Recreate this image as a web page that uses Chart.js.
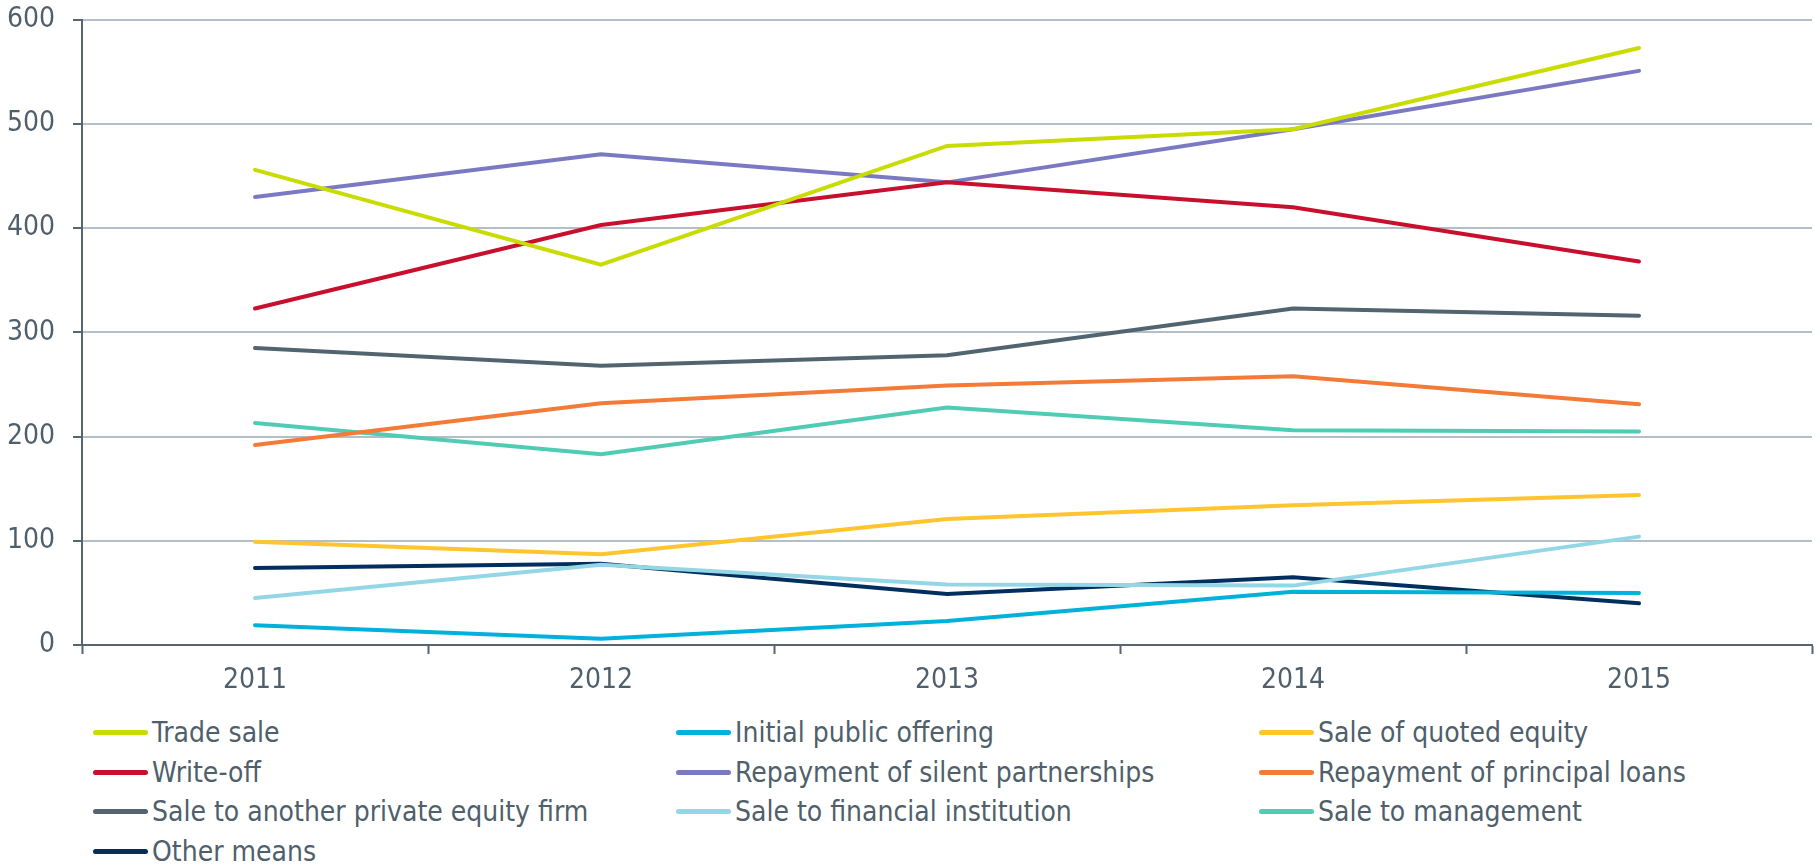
<!DOCTYPE html>
<html>
<head>
<meta charset="utf-8">
<script src="https://cdn.jsdelivr.net/npm/chart.js@4/dist/chart.umd.min.js"></script>
<style>
  html, body { margin: 0; padding: 0; background: #fff; }
  body { width: 1819px; height: 864px; position: relative; overflow: hidden;
         font-family: "DejaVu Sans Condensed", "DejaVu Sans", sans-serif; color: #4f5f6b; }
  #wrap { position: absolute; left: 0; top: -15px; width: 1819px; height: 715px; }
  #legend { position: absolute; left: 93px; top: 713px; display: grid;
            grid-template-columns: 583px 583px 560px; row-gap: 0; }
  .item { display: flex; align-items: center; height: 39.5px; font-size: 28px; white-space: nowrap; }
  .swatch { width: 55px; height: 5px; border-radius: 3px; margin-right: 4px; }
</style>
</head>
<body>
<div id="wrap"><canvas id="chart"></canvas></div>
<div id="legend"></div>
<script>
/* ================================
   DATA
================================ */
const years = ['2011', '2012', '2013', '2014', '2015'];

const tradeSale        = [456, 365, 479, 495, 573];
const ipo              = [19, 6, 23, 51, 50];
const quotedEquity     = [99, 87, 121, 134, 144];
const writeOff         = [323, 403, 444, 420, 368];
const silentPartners   = [430, 471, 444, 495, 551];
const principalLoans   = [192, 232, 249, 258, 231];
const anotherPE        = [285, 268, 278, 323, 316];
const financialInst    = [45, 77, 58, 57, 104];
const management       = [213, 183, 228, 206, 205];
const otherMeans       = [74, 78, 49, 65, 40];

const yTicks = [0, 100, 200, 300, 400, 500, 600];

const seriesNames = [
  'Trade sale', 'Initial public offering', 'Sale of quoted equity',
  'Write-off', 'Repayment of silent partnerships', 'Repayment of principal loans',
  'Sale to another private equity firm', 'Sale to financial institution', 'Sale to management',
  'Other means'
];
const seriesData = [
  tradeSale, ipo, quotedEquity,
  writeOff, silentPartners, principalLoans,
  anotherPE, financialInst, management,
  otherMeans
];
const seriesColors = [
  '#c9dc00', '#00b1d9', '#ffc52f',
  '#c8102e', '#7b79c3', '#f47a38',
  '#526470', '#93d7e7', '#50cbb4',
  '#002f5f'
];

/* ================================
   CHART
================================ */
const textColor = '#4f5f6b';
const axisColor = '#56656f';
const gridColor = '#b3bfc8';
const font = { family: '"DejaVu Sans Condensed", "DejaVu Sans", sans-serif', size: 28 };

// first series drawn on top
const datasets = seriesNames.map((name, i) => ({
  label: name,
  data: seriesData[i],
  borderColor: seriesColors[i],
  backgroundColor: seriesColors[i],
  borderWidth: 4,
  borderCapStyle: 'round',
  pointRadius: 0,
  tension: 0,
  order: i
}));

new Chart(document.getElementById('chart'), {
  type: 'line',
  data: { labels: years, datasets },
  options: {
    responsive: true,
    maintainAspectRatio: false,
    animation: false,
    layout: { padding: { top: 0, right: 7, left: 0, bottom: 0 } },
    plugins: { legend: { display: false }, tooltip: { enabled: false } },
    scales: {
      x: {
        offset: true,
        grid: { offset: true, drawOnChartArea: false, tickLength: 9, tickColor: axisColor, tickWidth: 2 },
        border: { color: axisColor, width: 2 },
        ticks: { color: textColor, font, padding: 10 },
        afterFit: (s) => { s.height = 55; }
      },
      y: {
        min: 0,
        max: 600,
        afterBuildTicks: (s) => { s.ticks = yTicks.map(v => ({ value: v })); },
        grid: { color: gridColor, lineWidth: 2, tickLength: 9, tickColor: axisColor, tickWidth: 2 },
        border: { color: axisColor, width: 2 },
        ticks: { color: textColor, font, padding: 18 },
        afterFit: (s) => { s.width = 82; }
      }
    }
  }
});

/* ================================
   LEGEND
================================ */
const legend = document.getElementById('legend');
seriesNames.forEach((name, i) => {
  const item = document.createElement('div');
  item.className = 'item';
  item.innerHTML = `<span class="swatch" style="background:${seriesColors[i]}"></span><span>${name}</span>`;
  legend.appendChild(item);
});
</script>
</body>
</html>
